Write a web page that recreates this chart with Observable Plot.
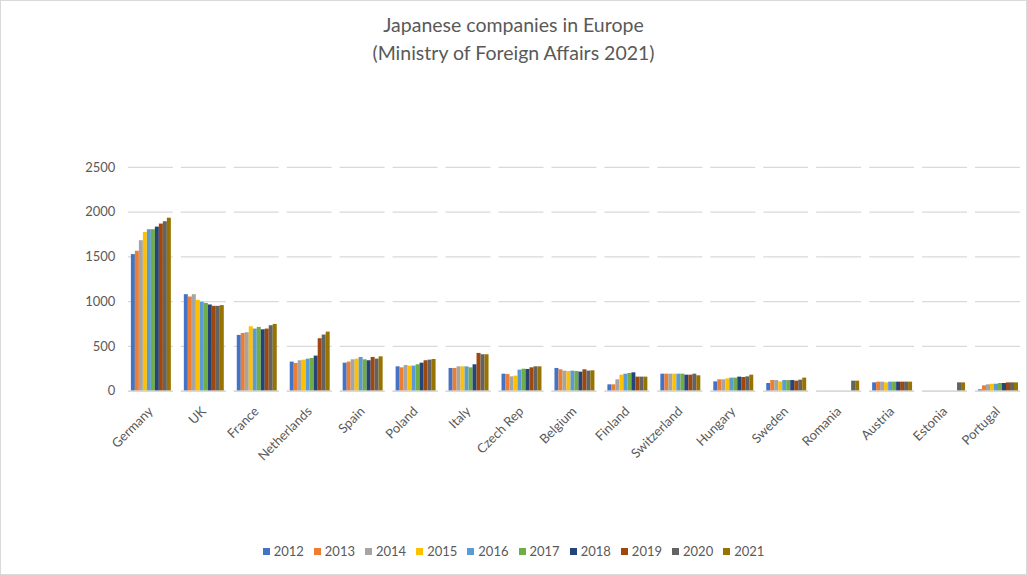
<!DOCTYPE html>
<html>
<head>
<meta charset="utf-8">
<script src="https://cdn.jsdelivr.net/npm/d3@7"></script>
<script src="https://cdn.jsdelivr.net/npm/@observablehq/plot@0.6"></script>
<style>
  html, body { margin: 0; padding: 0; background: #fff; }
  #wrap { position: relative; width: 1027px; height: 575px; box-sizing: border-box; border: 1px solid #d9d9d9; font-family: Lato, "Open Sans", sans-serif; color: #595959; overflow: hidden; }
  #title { position: absolute; left: 0; top: 10px; width: 100%; text-align: center; font-size: 19.5px; line-height: 28px; }
  #chart { position: absolute; left: -1px; top: 79px; }
  #legend { position: absolute; left: 0; top: 542px; width: 100%; display: flex; justify-content: center; font-size: 13px; }
  .item { display: flex; align-items: center; margin: 0 5px; }
  .sw { width: 7px; height: 7px; margin-right: 4px; }
</style>
</head>
<body>
<div id="wrap">
  <div id="title">Japanese companies in Europe<br>(Ministry of Foreign Affairs 2021)</div>
  <div id="chart"></div>
  <div id="legend"></div>
</div>
<script>
const countries = ["Germany","UK","France","Netherlands","Spain","Poland","Italy","Czech Rep","Belgium","Finland","Switzerland","Hungary","Sweden","Romania","Austria","Estonia","Portugal"];
const years = ["2012","2013","2014","2015","2016","2017","2018","2019","2020","2021"];
const colors = ["#4472C4","#ED7D31","#A5A5A5","#FFC000","#5B9BD5","#70AD47","#264478","#9E480E","#636363","#997300"];
const yTicks = [0, 500, 1000, 1500, 2000, 2500];

// values per country, 2012..2021
const germany     = [1526, 1563, 1681, 1774, 1804, 1804, 1833, 1867, 1893, 1933];
const uk          = [1078, 1052, 1078, 1015, 993, 981, 963, 948, 948, 956];
const france      = [623, 645, 653, 720, 694, 713, 686, 694, 731, 746];
const netherlands = [325, 310, 340, 347, 358, 366, 392, 586, 627, 660];
const spain       = [313, 325, 351, 358, 377, 351, 340, 377, 358, 384];
const poland      = [272, 261, 287, 280, 280, 295, 313, 340, 347, 354];
const italy       = [254, 254, 272, 272, 272, 261, 295, 422, 407, 407];
const czech       = [190, 186, 160, 168, 235, 246, 243, 261, 272, 272];
const belgium     = [254, 239, 224, 220, 224, 220, 213, 239, 224, 228];
const finland     = [71, 71, 127, 179, 190, 198, 205, 157, 157, 157];
const switzerland = [190, 190, 190, 190, 190, 190, 179, 179, 190, 172];
const hungary     = [104, 127, 127, 138, 146, 146, 157, 153, 160, 179];
const sweden      = [86, 119, 119, 104, 119, 119, 119, 112, 123, 146];
const romania     = [null, null, null, null, null, null, null, null, 112, 112];
const austria     = [93, 101, 101, 93, 101, 101, 101, 101, 101, 101];
const estonia     = [null, null, null, null, null, null, null, null, 93, 93];
const portugal    = [15, 60, 71, 78, 78, 86, 86, 93, 93, 93];

const series = [germany, uk, france, netherlands, spain, poland, italy, czech, belgium, finland, switzerland, hungary, sweden, romania, austria, estonia, portugal];

const data = [];
countries.forEach((c, i) => {
  years.forEach((y, j) => {
    const v = series[i][j];
    if (v != null) data.push({country: c, year: y, value: v});
  });
});

const plot = Plot.plot({
  width: 1027,
  height: 450,
  marginLeft: 127,
  marginRight: 4,
  marginTop: 87,
  marginBottom: 139,
  style: {fontFamily: "Lato, 'Open Sans', sans-serif", fontSize: "13px", color: "#595959", background: "transparent"},
  fx: {domain: countries, padding: 0.15, label: null},
  x: {domain: years, axis: null, padding: 0.12},
  y: {domain: [0, 2500], label: null},
  color: {domain: years, range: colors},
  marks: [
    Plot.gridY(yTicks, {stroke: "#d9d9d9", strokeOpacity: 1, strokeWidth: 1.3}),
    Plot.axisY(yTicks, {tickSize: 0, tickPadding: 13, fontSize: 13, fill: "#595959", label: null, tickFormat: d => String(d)}),
    Plot.axisFx({anchor: "bottom", tickSize: 0, tickPadding: 18, tickRotate: -45, fontSize: 13, fill: "#595959", label: null}),
    Plot.barY(data, {fx: "country", x: "year", y: "value", fill: "year"}),
    Plot.ruleY([0], {stroke: "#d9d9d9", strokeWidth: 1.5})
  ]
});
document.getElementById("chart").appendChild(plot);

const legend = document.getElementById("legend");
years.forEach((y, i) => {
  const item = document.createElement("div");
  item.className = "item";
  const sw = document.createElement("div");
  sw.className = "sw";
  sw.style.background = colors[i];
  const t = document.createElement("span");
  t.textContent = y;
  item.appendChild(sw);
  item.appendChild(t);
  legend.appendChild(item);
});
</script>
</body>
</html>
